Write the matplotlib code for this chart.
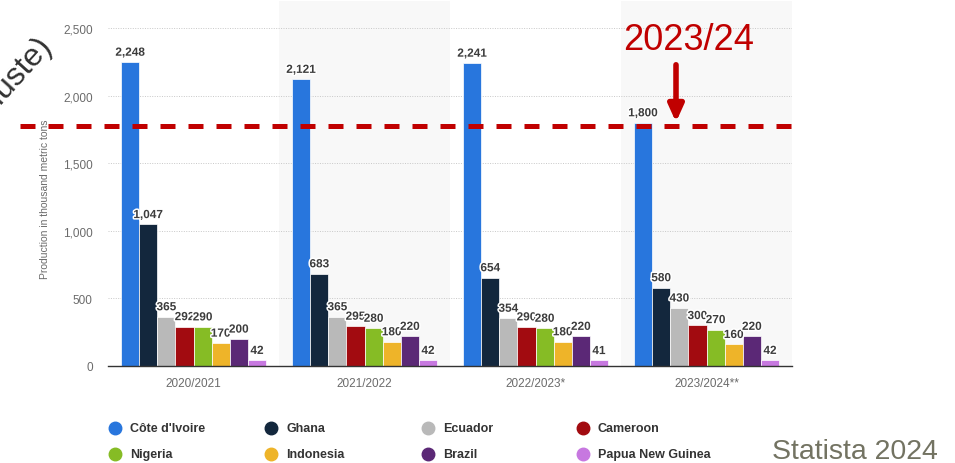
import matplotlib
matplotlib.use('Agg')
import matplotlib.pyplot as plt
import matplotlib.patheffects as pe
from matplotlib.lines import Line2D
import numpy as np

seasons = ['2020/2021', '2021/2022', '2022/2023*', '2023/2024**']
countries = ["Côte d'Ivoire", 'Ghana', 'Ecuador', 'Cameroon',
             'Nigeria', 'Indonesia', 'Brazil', 'Papua New Guinea']
colors = ['#2876dd', '#13273d', '#b9b9b9', '#a20b10',
          '#86bc25', '#eeb429', '#5b2876', '#c778e0']

# production per season, in thousand metric tons
cote_divoire = [2248, 2121, 2241, 1800]
ghana = [1047, 683, 654, 580]
ecuador = [365, 365, 354, 430]
cameroon = [292, 295, 290, 300]
nigeria = [290, 280, 280, 270]
indonesia = [170, 180, 180, 160]
brazil = [200, 220, 220, 220]
png = [42, 42, 41, 42]
series = [cote_divoire, ghana, ecuador, cameroon, nigeria, indonesia, brazil, png]

yticks = [0, 500, 1000, 1500, 2000, 2500]
marker_level = 1775  # red dashed reference line

plt.rcParams['font.family'] = ['Liberation Sans', 'DejaVu Sans']

fig = plt.figure(figsize=(9.55, 4.64), dpi=100)
ax = fig.add_axes([108 / 955, 1 - 367 / 464, 684 / 955, 365 / 464])

# alternating column shading
for i in range(len(seasons)):
    if i % 2 == 1:
        ax.axvspan(i - 0.5, i + 0.5, color='#f8f8f8', zorder=0, lw=0)

bw = 0.106
x = np.arange(len(seasons))
halo = [pe.withStroke(linewidth=2.2, foreground='white')]
for k, (vals, c) in enumerate(zip(series, colors)):
    xs = x + (k - 3.5) * bw
    ax.bar(xs, vals, width=bw, color=c, edgecolor='white', linewidth=0.5, zorder=3)
    for xi, v in zip(xs, vals):
        ax.text(xi, v + 25, f'{v:,}', ha='center', va='bottom', fontsize=8.5,
                fontweight='bold', color='#3c3c3c', path_effects=halo, zorder=5)

ax.set_xlim(-0.5, len(seasons) - 0.5)
ax.set_ylim(0, 2700)
ax.set_yticks(yticks)
ax.set_yticklabels([f'{t:,}' for t in yticks])
ax.yaxis.grid(True, linestyle=(0, (1, 1.5)), color='#c8c8c8', linewidth=0.7)
ax.set_axisbelow(True)
ax.set_xticks(x)
ax.set_xticklabels(seasons)
ax.tick_params(axis='both', length=0, labelsize=8.5, colors='#6b6b6b')
ax.tick_params(axis='y', pad=11)
ax.tick_params(axis='x', pad=8)
for s in ['top', 'right', 'left']:
    ax.spines[s].set_visible(False)
ax.spines['bottom'].set_color('#333333')
ax.spines['bottom'].set_linewidth(1.0)
ax.spines['bottom'].set_zorder(6)
ax.patch.set_alpha(0)

fig.text(45 / 955, 1 - 199 / 464, 'Production in thousand metric tons', rotation=90,
         ha='center', va='center', fontsize=7.5, color='#6b6b6b')

# red dashed line across figure at marker level
y_line = ax.transData.transform((0, marker_level))[1] / fig.bbox.height
fig.add_artist(Line2D([20 / 955, 795 / 955], [y_line, y_line], transform=fig.transFigure,
                      color='#c00000', lw=3.6, dashes=(3, 2.6), zorder=10))

fig.text(689 / 955, 1 - 40 / 464, '2023/24', ha='center', va='center',
         fontsize=26, color='#c00000')
ax.annotate('', xy=(676 / 955, 1 - 126 / 464), xytext=(676 / 955, 1 - 63 / 464),
            xycoords='figure fraction', textcoords='figure fraction',
            arrowprops=dict(arrowstyle='-|>,head_width=0.45,head_length=1.0',
                            color='#c00000', lw=4), zorder=11)

fig.text(52 / 955, 1 - 47 / 464, '(Verluste)', rotation=48, rotation_mode='anchor',
         ha='right', va='baseline', fontsize=23, color='#333333')

# legend
leg_x = [115, 271, 428, 583]
leg_y = [429, 455]
for k, name in enumerate(countries):
    col = k % 4
    row = k // 4
    fx = leg_x[col] / 955
    fy = 1 - leg_y[row] / 464
    fig.add_artist(Line2D([fx], [fy], transform=fig.transFigure, marker='o',
                          markersize=9, color=colors[k], lw=0))
    fig.text(fx + 15 / 955, fy, name, ha='left', va='center', fontsize=9,
             fontweight='bold', color='#333333')

fig.text(855 / 955, 1 - 452 / 464, 'Statista 2024', ha='center', va='center',
         fontsize=20.5, color='#737362')

fig.savefig('out.png', dpi=100)
